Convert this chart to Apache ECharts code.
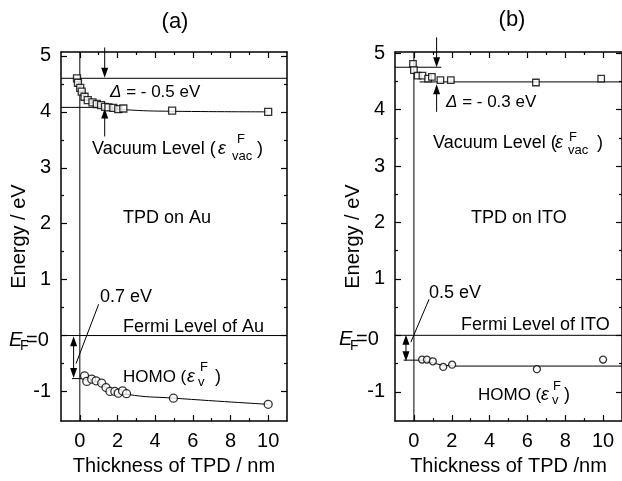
<!DOCTYPE html>
<html>
<head>
<meta charset="utf-8">
<script src="https://cdn.jsdelivr.net/npm/echarts@6/dist/echarts.min.js"></script>
<style>
html, body { margin: 0; padding: 0; background: #fff; }
#chart { width: 622px; height: 481px; }
</style>
</head>
<body>
<div id="chart"></div>
<script>
// tick values
const xMajor = [0, 2, 4, 6, 8, 10]
const xMinor = [1, 3, 5, 7, 9]
const yMajor = [-1, 0, 1, 2, 3, 4, 5]
const yMinor = [-0.5, 0.5, 1.5, 2.5, 3.5, 4.5]

// (a) TPD on Au
const vacAuX = [-0.15, -0.1, 0.02, 0.1, 0.25, 0.42, 0.67, 0.9, 1.13, 1.34, 1.52, 1.78, 2.04, 2.31, 4.9, 10]
const vacAuY = [4.6, 4.52, 4.43, 4.36, 4.27, 4.21, 4.17, 4.14, 4.12, 4.09, 4.08, 4.07, 4.05, 4.06, 4.02, 4.0]
const homoAuX = [0.25, 0.37, 0.63, 0.86, 1.16, 1.39, 1.6, 1.86, 2.04, 2.27, 2.48, 4.97, 10]
const homoAuY = [-0.72, -0.82, -0.78, -0.81, -0.85, -0.93, -1.0, -1.0, -1.03, -0.99, -1.04, -1.12, -1.23]
const vacAuFit = [[-0.12, 4.6], [0.1, 4.36], [0.42, 4.21], [0.9, 4.14], [1.5, 4.08], [2.3, 4.04], [5, 4.01], [10, 4.0]]
const homoAuFit = [[0.1, -0.76], [0.63, -0.79], [1.4, -0.93], [2.5, -1.05], [5, -1.12], [10, -1.23]]
const auVacLine = [[-1, 4.6], [11, 4.6]]
const auTpdVacLine = [[-1, 4.08], [1.6, 4.08]]
const auBracket = [[-0.42, -0.77], [0.12, -0.77]]
const auArrowDown = [[1.32, 5.15], [1.32, 4.7]]
const auArrowUp = [[1.32, 3.56], [1.32, 3.97]]
const auDouble = [[-0.33, -0.1], [-0.33, -0.67]]
const auLeader = [[1.0, 0.56], [-0.2, -0.5]]

// (b) TPD on ITO
const vacItoX = [-0.05, 0, 0.2, 0.45, 0.75, 0.95, 1.4, 1.95, 6.45, 9.9]
const vacItoY = [4.81, 4.7, 4.6, 4.6, 4.55, 4.58, 4.52, 4.52, 4.48, 4.55]
const homoItoX = [0.43, 0.69, 1.0, 1.55, 2.02, 6.5, 10]
const homoItoY = [-0.43, -0.43, -0.46, -0.56, -0.52, -0.6, -0.43]
const itoVacLine = [[-1, 4.75], [1.45, 4.75]]
const itoTpdVacLine = [[0.3, 4.49], [11, 4.49]]
const homoItoFit = [[-0.55, -0.44], [0.43, -0.44], [1.5, -0.53], [2.2, -0.545], [11, -0.545]]
const itoArrowDown = [[1.2, 5.28], [1.2, 4.84]]
const itoArrowUp = [[1.2, 3.96], [1.2, 4.36]]
const itoDouble = [[-0.42, -0.08], [-0.42, -0.37]]
const itoLeader = [[0.8, 0.64], [-0.16, -0.12]]

const fermiLine = [[-1, 0], [11, 0]]
const xRange = [-1, 11]
const yRangeAu = [-1.53, 5.07]
const yRangeIto = [-1.52, 5.02]

const FONT = '"Liberation Sans", Arial, sans-serif'
const black = '#000'

const zip = (xs, ys) => xs.map((x, i) => [x, ys[i]])

const xAxes = (g, name) => {
  const base = {
    type: 'value', gridIndex: g, min: xRange[0], max: xRange[1],
    splitLine: { show: false }, axisLabel: { show: false },
    axisLine: { show: false, onZero: false }
  }
  const line = { show: true, onZero: false, lineStyle: { color: black, width: 1.5 } }
  const tick = (vals, len) => ({ show: true, inside: true, length: len, customValues: vals, lineStyle: { color: black, width: 1.2 } })
  return [
    {
      ...base, position: 'bottom', axisLine: line, axisTick: tick(xMajor, 6),
      axisLabel: { show: true, customValues: xMajor, color: black, fontSize: 20, fontFamily: FONT, margin: 10 },
      name: name, nameLocation: 'middle', nameGap: 32,
      nameTextStyle: { color: black, fontSize: 20, fontFamily: FONT }
    },
    { ...base, position: 'bottom', axisTick: tick(xMinor, 3) },
    { ...base, position: 'top', axisLine: line, axisTick: tick(xMajor, 6) },
    { ...base, position: 'top', axisTick: tick(xMinor, 3) }
  ]
}

const yAxes = (g, range) => {
  const base = {
    type: 'value', gridIndex: g, min: range[0], max: range[1],
    splitLine: { show: false }, axisLabel: { show: false },
    axisLine: { show: false, onZero: false }
  }
  const line = { show: true, onZero: false, lineStyle: { color: black, width: 1.5 } }
  const tick = (vals, len) => ({ show: true, inside: true, length: len, customValues: vals, lineStyle: { color: black, width: 1.2 } })
  return [
    {
      ...base, position: 'left', axisLine: line, axisTick: tick(yMajor, 6),
      axisLabel: {
        show: true, customValues: yMajor, color: black, fontSize: 20, fontFamily: FONT, margin: 10,
        formatter: v => (v === 0 ? '' : String(v))
      },
      name: 'Energy / eV', nameLocation: 'middle', nameGap: 32,
      nameTextStyle: { color: black, fontSize: 20, fontFamily: FONT }
    },
    { ...base, position: 'left', axisTick: tick(yMinor, 3) },
    { ...base, position: 'right', axisLine: line, axisTick: tick(yMajor, 6) },
    { ...base, position: 'right', axisTick: tick(yMinor, 3) }
  ]
}

const plain = (g, data, extra) => ({
  type: 'line', xAxisIndex: 4 * g, yAxisIndex: 4 * g, data: data,
  symbol: 'none', clip: false, silent: true, z: 2,
  lineStyle: { color: black, width: 1 }, ...extra
})

// arrow: head drawn on the end point, pointing along the segment
const arrow = (g, seg, both) => {
  const down = seg[1][1] < seg[0][1]
  const head = (p, rot) => ({ value: p, symbol: 'triangle', symbolSize: [7, 10], symbolRotate: rot })
  return plain(g, [
    both ? head(seg[0], down ? 0 : 180) : { value: seg[0], symbol: 'none' },
    head(seg[1], down ? 180 : 0)
  ], { showSymbol: true, itemStyle: { color: black } })
}

const points = (g, data, shape, size) => ({
  type: 'scatter', xAxisIndex: 4 * g, yAxisIndex: 4 * g, data: data,
  symbol: shape, symbolSize: size, silent: true, z: 5,
  itemStyle: { color: '#fff', borderColor: black, borderWidth: 1.3 }
})

const t = (x, y, s, size, italic, align) => ({
  type: 'text', x: x, y: y, silent: true,
  style: {
    text: s, fontSize: size || 18, fontFamily: FONT, fill: black,
    fontStyle: italic ? 'italic' : 'normal', verticalAlign: 'middle', align: align || 'left',
    rich: { i: { fontStyle: 'italic', fontSize: size || 18, fontFamily: FONT } }
  }
})

const chart = echarts.init(document.getElementById('chart'))
chart.setOption({
  animation: false,
  backgroundColor: '#fff',
  grid: [
    { left: 61, top: 52, width: 226, height: 375 },
    { left: 395, top: 52, width: 230, height: 373 }
  ],
  xAxis: [...xAxes(0, 'Thickness of TPD / nm'), ...xAxes(1, 'Thickness of TPD /nm')],
  yAxis: [...yAxes(0, yRangeAu), ...yAxes(1, yRangeIto)],
  series: [
    // (a)
    plain(0, auVacLine),
    plain(0, auTpdVacLine),
    plain(0, fermiLine),
    plain(0, [[0, yRangeAu[0]], [0, yRangeAu[1]]]),
    plain(0, auBracket),
    plain(0, vacAuFit, { smooth: true }),
    plain(0, homoAuFit, { smooth: true }),
    plain(0, auLeader),
    arrow(0, auArrowDown),
    arrow(0, auArrowUp),
    arrow(0, auDouble, true),
    points(0, zip(vacAuX, vacAuY), 'rect', 7),
    points(0, zip(homoAuX, homoAuY), 'circle', 8),
    // (b)
    plain(1, itoVacLine),
    plain(1, itoTpdVacLine),
    plain(1, fermiLine),
    plain(1, [[0, yRangeIto[0]], [0, yRangeIto[1]]]),
    plain(1, homoItoFit),
    plain(1, itoLeader),
    arrow(1, itoArrowDown),
    arrow(1, itoArrowUp),
    arrow(1, itoDouble, true),
    points(1, zip(vacItoX, vacItoY), 'rect', 6.5),
    points(1, zip(homoItoX, homoItoY), 'circle', 7)
  ],
  graphic: [
    // (a)
    t(175, 22, '(a)', 22, false, 'center'),
    t(110, 92, '{i|Δ} = - 0.5 eV', 17),
    t(92, 149, 'Vacuum Level (', 18),
    t(218, 149, 'ε', 18, true),
    t(237, 139, 'F', 13),
    t(232, 156, 'vac', 13),
    t(257, 149, ')', 18),
    t(123, 218, 'TPD on Au', 18),
    t(100, 297, '0.7 eV', 18),
    t(123, 327, 'Fermi Level of Au', 18),
    t(123, 377, 'HOMO (', 17),
    t(187, 377, 'ε', 18, true),
    t(200, 367, 'F', 13),
    t(198, 382, 'v', 13),
    t(215, 377, ')', 18),
    t(9, 340, 'E', 20, true),
    t(20, 346, 'F', 14),
    t(26, 340, '=0', 20),
    // (b)
    t(512, 20, '(b)', 22, false, 'center'),
    t(446, 102, '{i|Δ} = - 0.3 eV', 17),
    t(433, 143, 'Vacuum Level (', 18),
    t(555, 143, 'ε', 18, true),
    t(569, 137, 'F', 13),
    t(568, 150, 'vac', 13),
    t(597, 143, ')', 18),
    t(471, 218, 'TPD on ITO', 18),
    t(429, 293, '0.5 eV', 18),
    t(461, 325, 'Fermi Level of ITO', 18),
    t(478, 395, 'HOMO (', 17),
    t(541, 395, 'ε', 18, true),
    t(553, 386, 'F', 13),
    t(552, 400, 'v', 13),
    t(564, 395, ')', 18),
    t(339, 339, 'E', 20, true),
    t(350, 346, 'F', 14),
    t(356, 339, '=0', 20)
  ]
})
</script>
</body>
</html>
